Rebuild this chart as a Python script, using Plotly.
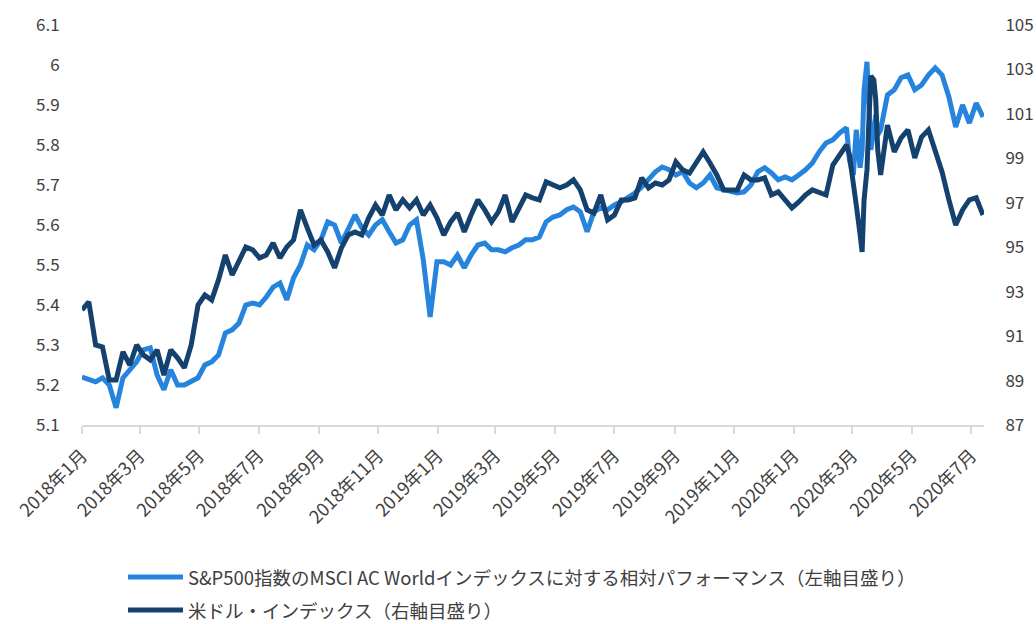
import plotly.graph_objects as go

dates = [
    "2018-01-01", "2018-01-08", "2018-01-15", "2018-01-22", "2018-01-29",
    "2018-02-05", "2018-02-12", "2018-02-19", "2018-02-26",
    "2018-03-05", "2018-03-12", "2018-03-19", "2018-03-26",
    "2018-04-02", "2018-04-09", "2018-04-16", "2018-04-23", "2018-04-30",
    "2018-05-07", "2018-05-14", "2018-05-21", "2018-05-28",
    "2018-06-04", "2018-06-11", "2018-06-18", "2018-06-25",
    "2018-07-02", "2018-07-09", "2018-07-16", "2018-07-23", "2018-07-30",
    "2018-08-06", "2018-08-13", "2018-08-20", "2018-08-27",
    "2018-09-03", "2018-09-10", "2018-09-17", "2018-09-24",
    "2018-10-01", "2018-10-08", "2018-10-15", "2018-10-22", "2018-10-29",
    "2018-11-05", "2018-11-12", "2018-11-19", "2018-11-26",
    "2018-12-03", "2018-12-10", "2018-12-17", "2018-12-24", "2018-12-31",
    "2019-01-07", "2019-01-14", "2019-01-21", "2019-01-28",
    "2019-02-04", "2019-02-11", "2019-02-18", "2019-02-25",
    "2019-03-04", "2019-03-11", "2019-03-18", "2019-03-25",
    "2019-04-01", "2019-04-08", "2019-04-15", "2019-04-22", "2019-04-29",
    "2019-05-06", "2019-05-13", "2019-05-20", "2019-05-27",
    "2019-06-03", "2019-06-10", "2019-06-17", "2019-06-24",
    "2019-07-01", "2019-07-08", "2019-07-15", "2019-07-22", "2019-07-29",
    "2019-08-05", "2019-08-12", "2019-08-19", "2019-08-26",
    "2019-09-02", "2019-09-09", "2019-09-16", "2019-09-23", "2019-09-30",
    "2019-10-07", "2019-10-14", "2019-10-21", "2019-10-28",
    "2019-11-04", "2019-11-11", "2019-11-18", "2019-11-25",
    "2019-12-02", "2019-12-09", "2019-12-16", "2019-12-23", "2019-12-30",
    "2020-01-06", "2020-01-13", "2020-01-20", "2020-01-27",
    "2020-02-03", "2020-02-10", "2020-02-17", "2020-02-24", "2020-02-27",
    "2020-03-02", "2020-03-05", "2020-03-09", "2020-03-11", "2020-03-13",
    "2020-03-16", "2020-03-18", "2020-03-20", "2020-03-23", "2020-03-25",
    "2020-03-27", "2020-03-30",
    "2020-04-06", "2020-04-13", "2020-04-20", "2020-04-27",
    "2020-05-04", "2020-05-11", "2020-05-18", "2020-05-25",
    "2020-06-01", "2020-06-08", "2020-06-15", "2020-06-22", "2020-06-29",
    "2020-07-06", "2020-07-13",
]

# S&P500 relative performance vs MSCI AC World (left axis)
sp_relative = [
    5.22, 5.213, 5.208, 5.218, 5.2,
    5.143, 5.218, 5.238, 5.258,
    5.288, 5.293, 5.225, 5.188,
    5.238, 5.2, 5.2, 5.208, 5.218,
    5.25, 5.258, 5.275, 5.33,
    5.338, 5.355, 5.4, 5.405,
    5.4, 5.42, 5.445, 5.455, 5.413,
    5.468, 5.5, 5.55, 5.538,
    5.563, 5.608, 5.6, 5.555,
    5.588, 5.625, 5.593, 5.575, 5.6,
    5.613, 5.583, 5.555, 5.563,
    5.6, 5.613, 5.513, 5.37, 5.508,
    5.508, 5.5, 5.525, 5.493,
    5.525, 5.55, 5.555, 5.538,
    5.538, 5.533, 5.543, 5.55,
    5.563, 5.563, 5.57, 5.608, 5.62,
    5.625, 5.638, 5.645, 5.633,
    5.583, 5.633, 5.643, 5.638,
    5.65, 5.658, 5.668, 5.68, 5.695,
    5.713, 5.733, 5.745, 5.738,
    5.725, 5.733, 5.705, 5.693, 5.705,
    5.725, 5.693, 5.688, 5.683,
    5.68, 5.683, 5.7, 5.733,
    5.743, 5.73, 5.713, 5.72, 5.713,
    5.725, 5.738, 5.755, 5.783,
    5.805, 5.813, 5.83, 5.843, 5.763,
    5.725, 5.838, 5.743, 5.788, 5.938,
    6.008, 5.863, 5.788, 5.838, 5.875,
    5.825, 5.838,
    5.925, 5.938, 5.968, 5.975,
    5.938, 5.95, 5.975, 5.993,
    5.975, 5.92, 5.845, 5.9, 5.855,
    5.905, 5.87,
]

# US dollar index (right axis)
dollar_index = [
    92.18, 92.54, 90.6, 90.51, 89.03,
    89.03, 90.29, 89.7, 90.6,
    90.15, 89.93, 90.38, 89.25,
    90.38, 90.02, 89.57, 90.6, 92.4,
    92.85, 92.63, 93.53, 94.65,
    93.75, 94.34, 95.01, 94.88,
    94.52, 94.65, 95.19, 94.52, 95.01,
    95.33, 96.68, 95.87, 95.1,
    95.33, 94.79, 94.07, 94.97,
    95.55, 95.69, 95.55, 96.32, 96.9,
    96.45, 97.35, 96.68, 97.13,
    96.77, 97.13, 96.45, 96.9, 96.32,
    95.55, 96.14, 96.54, 95.69,
    96.45, 97.13, 96.68, 96.14,
    96.59, 97.35, 96.14, 96.81,
    97.35, 97.22, 97.13, 97.94, 97.8,
    97.67, 97.8, 98.03, 97.58,
    96.68, 96.54, 97.35, 96.23,
    96.45, 97.13, 97.13, 97.22, 98.12,
    97.67, 97.89, 97.8, 98.03,
    98.84, 98.48, 98.34, 98.79, 99.29,
    98.79, 98.25, 97.58, 97.58,
    97.58, 98.25, 98.03, 98.03,
    98.12, 97.35, 97.49, 97.13, 96.77,
    97.04, 97.35, 97.58, 97.44,
    97.35, 98.7, 99.15, 99.6, 99.15,
    97.58, 96.9, 95.55, 94.79, 97.13,
    98.48, 100.73, 102.71, 102.53, 101.63,
    99.38, 98.25,
    100.5, 99.29, 99.92, 100.28,
    99.02, 99.96, 100.28, 99.29,
    98.39, 97.13, 96.0, 96.68, 97.13,
    97.22, 96.45,
]

assert len(dates) == len(sp_relative) == len(dollar_index)

x_tickvals = [
    "2018-01-01", "2018-03-01", "2018-05-01", "2018-07-01", "2018-09-01",
    "2018-11-01", "2019-01-01", "2019-03-01", "2019-05-01", "2019-07-01",
    "2019-09-01", "2019-11-01", "2020-01-01", "2020-03-01", "2020-05-01",
    "2020-07-01",
]
x_ticktext = [
    "2018年1月", "2018年3月", "2018年5月", "2018年7月", "2018年9月",
    "2018年11月", "2019年1月", "2019年3月", "2019年5月", "2019年7月",
    "2019年9月", "2019年11月", "2020年1月", "2020年3月", "2020年5月",
    "2020年7月",
]
left_tickvals = [5.1, 5.2, 5.3, 5.4, 5.5, 5.6, 5.7, 5.8, 5.9, 6.0, 6.1]
left_ticktext = ["5.1", "5.2", "5.3", "5.4", "5.5", "5.6", "5.7", "5.8", "5.9", "6", "6.1"]
right_tickvals = [87, 89, 91, 93, 95, 97, 99, 101, 103, 105]

series_names = [
    "S&P500指数のMSCI AC Worldインデックスに対する相対パフォーマンス（左軸目盛り）",
    "米ドル・インデックス（右軸目盛り）",
]

LIGHT = "#2684DC"
DARK = "#15416F"
TEXT = "#404040"
FONT = "Noto Sans CJK JP"
colors = [LIGHT, DARK]

fig = go.Figure()
fig.add_trace(go.Scatter(
    x=dates, y=sp_relative, name=series_names[0], mode="lines",
    line=dict(color=LIGHT, width=5), yaxis="y", showlegend=False,
))
fig.add_trace(go.Scatter(
    x=dates, y=dollar_index, name=series_names[1], mode="lines",
    line=dict(color=DARK, width=5), yaxis="y2", showlegend=False,
))

# manual legend below the plot (paper coordinates)
legend_rows_y = [-0.38, -0.4625]
for name, col, ly in zip(series_names, colors, legend_rows_y):
    fig.add_shape(type="line", xref="paper", yref="paper",
                  x0=0.051, x1=0.112, y0=ly, y1=ly,
                  line=dict(color=col, width=5))
    fig.add_annotation(xref="paper", yref="paper", x=0.115, y=ly,
                       xanchor="left", yanchor="middle", showarrow=False,
                       text=name, font=dict(family=FONT, size=18.5, color=TEXT))

fig.update_layout(
    width=1036, height=624,
    margin=dict(l=82, r=52, t=25, b=199, autoexpand=False),
    paper_bgcolor="white", plot_bgcolor="white",
    font=dict(family=FONT, size=16, color=TEXT),
    showlegend=False,
    xaxis=dict(
        type="date", range=["2018-01-01", "2020-07-14"], automargin=False,
        tickvals=x_tickvals, ticktext=x_ticktext, tickangle=-45,
        showgrid=False, zeroline=False,
        showline=True, linecolor="#D9D9D9", linewidth=2,
        ticks="outside", ticklen=7, tickcolor="#D9D9D9", tickwidth=1.5,
        ticklabelstandoff=4,
        tickfont=dict(family=FONT, size=18, color=TEXT),
    ),
    yaxis=dict(
        range=[5.1, 6.1], tickvals=left_tickvals, ticktext=left_ticktext,
        automargin=False,
        showgrid=False, zeroline=False, showline=False,
        ticks="outside", ticklen=18, tickcolor="rgba(0,0,0,0)",
        tickfont=dict(family=FONT, size=17, color=TEXT),
    ),
    yaxis2=dict(
        range=[87, 105], tickvals=right_tickvals, overlaying="y", side="right",
        automargin=False,
        showgrid=False, zeroline=False, showline=False,
        ticks="outside", ticklen=17, tickcolor="rgba(0,0,0,0)",
        tickfont=dict(family=FONT, size=17, color=TEXT),
    ),
)

fig.write_html("out.html")
